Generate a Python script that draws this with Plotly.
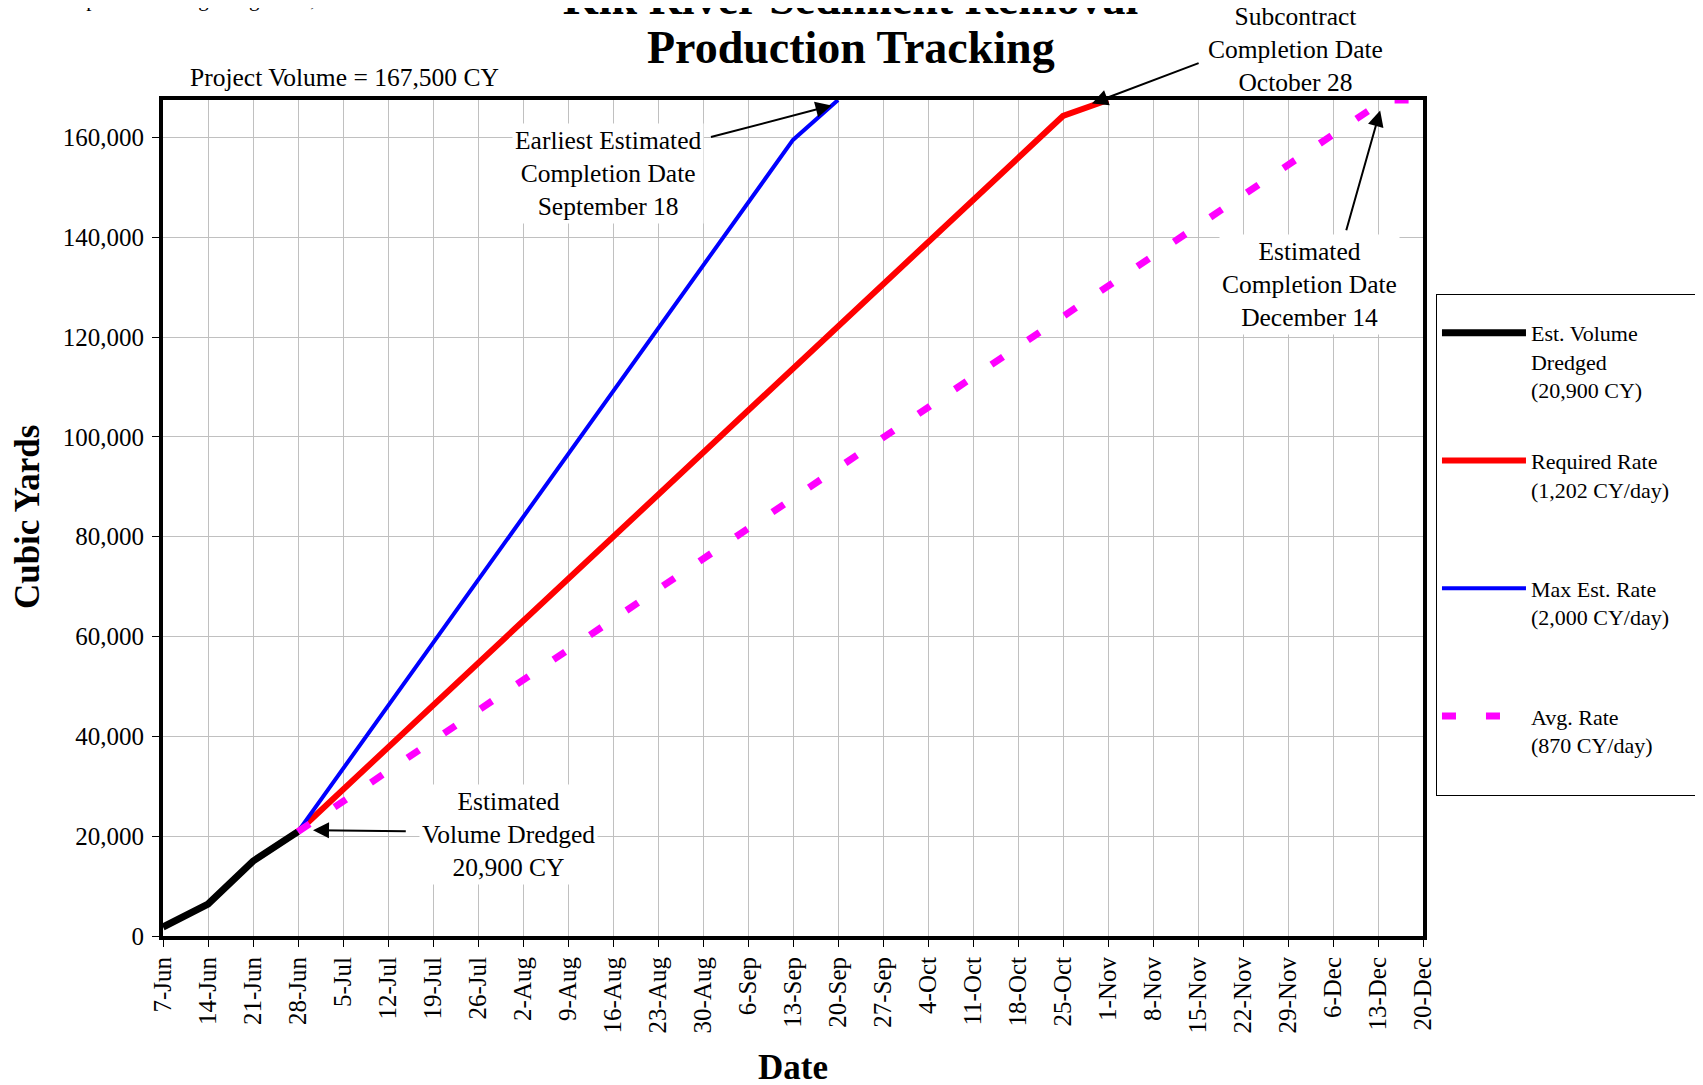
import plotly.graph_objects as go

# dates / values (cubic yards)
dredged_dates = ["2003-06-07", "2003-06-14", "2003-06-21", "2003-06-28"]
dredged_cy = [1800, 6400, 15000, 20900]

required_dates = ["2003-06-28", "2003-10-25", "2003-11-01"]
required_cy = [20900, 164300, 167500]

max_dates = ["2003-06-28", "2003-09-13", "2003-09-20"]
max_cy = [20900, 159500, 167500]

avg_dates = ["2003-06-28", "2003-12-14", "2003-12-20"]
avg_cy = [20900, 167500, 167500]

week_ticks = ["2003-06-07", "2003-06-14", "2003-06-21", "2003-06-28", "2003-07-05",
              "2003-07-12", "2003-07-19", "2003-07-26", "2003-08-02", "2003-08-09",
              "2003-08-16", "2003-08-23", "2003-08-30", "2003-09-06", "2003-09-13",
              "2003-09-20", "2003-09-27", "2003-10-04", "2003-10-11", "2003-10-18",
              "2003-10-25", "2003-11-01", "2003-11-08", "2003-11-15", "2003-11-22",
              "2003-11-29", "2003-12-06", "2003-12-13", "2003-12-20"]

FONT = "Liberation Serif, Times New Roman, serif"

fig = go.Figure()

fig.add_trace(go.Scatter(x=dredged_dates, y=dredged_cy, mode="lines",
                         name="Est. Volume<br>Dredged<br>(20,900 CY)", legendgroup="a",
                         line=dict(color="black", width=7)))
fig.add_trace(go.Scatter(x=required_dates, y=required_cy, mode="lines",
                         name="Required Rate<br>(1,202 CY/day)" + "&nbsp;" * 10 + "<br> ",
                         legendgroup="b", line=dict(color="#ff0000", width=6)))
fig.add_trace(go.Scatter(x=max_dates, y=max_cy, mode="lines",
                         name="Max Est. Rate<br>(2,000 CY/day)<br> ", legendgroup="c",
                         line=dict(color="#0000ff", width=4)))
fig.add_trace(go.Scatter(x=avg_dates, y=avg_cy, mode="lines",
                         name="Avg. Rate<br>(870 CY/day)<br> ", legendgroup="d",
                         line=dict(color="#ff00ff", width=7, dash="14px,30px")))

# text labels (white boxes hide the grid behind them)
labels = [
    ("Project Volume = 167,500 CY", 0.144, 1.0275, None),
    ("Earliest Estimated<br>Completion Date<br>September 18", 0.353, 0.9115, "white"),
    ("Subcontract<br>Completion Date<br>October 28", 0.899, 1.061, None),
    ("Estimated<br>Completion Date<br>December 14", 0.910, 0.779, "white"),
    ("Estimated<br>Volume Dredged<br>20,900 CY", 0.274, 0.121, "white"),
]
for txt, x, y, bg in labels:
    fig.add_annotation(text=txt, x=x, y=y, xref="paper", yref="paper", showarrow=False,
                       xanchor="center", yanchor="middle",
                       font=dict(family=FONT, size=25.5, color="black"),
                       bgcolor=bg, borderpad=2)

# arrows: (head date, head cy, tail date, tail cy)
arrows = [
    ("2003-09-19", 166400, "2003-08-31", 160000),
    ("2003-10-29 12:00", 166800, "2003-11-15 08:00", 175000),
    ("2003-12-13 08:00", 165400, "2003-12-08", 141100),
    ("2003-06-30 08:00", 21200, "2003-07-15", 21000),
]
for hx, hy, tx, ty in arrows:
    fig.add_annotation(x=hx, y=hy, ax=tx, ay=ty, xref="x", yref="y", axref="x", ayref="y",
                       text="", showarrow=True, arrowhead=2, arrowsize=1.6, arrowwidth=2,
                       arrowcolor="black")

# title (first line runs off the top of the page)
fig.add_annotation(text="<b>Kik River Sediment Removal</b>", x=0.546, y=1.121,
                   xref="paper", yref="paper", xanchor="center", yanchor="middle",
                   showarrow=False, font=dict(family=FONT, size=46, color="black"))
fig.add_annotation(text="<b>Production Tracking</b>", x=0.546, y=1.063,
                   xref="paper", yref="paper", xanchor="center", yanchor="middle",
                   showarrow=False, font=dict(family=FONT, size=46, color="black"))
fig.add_annotation(text="Updated Through August 31, 2003", x=0.043, y=1.104,
                   xref="paper", yref="paper", xanchor="center", yanchor="bottom",
                   showarrow=False, font=dict(family=FONT, size=21, color="black"))

# axis titles
fig.add_annotation(text="<b>Cubic Yards</b>", x=-0.108, y=0.501, xref="paper", yref="paper",
                   xanchor="center", yanchor="middle", textangle=-90, showarrow=False,
                   font=dict(family=FONT, size=35, color="black"))
fig.add_annotation(text="<b>Date</b>", x=0.5, y=-0.157, xref="paper", yref="paper",
                   xanchor="center", yanchor="middle", showarrow=False,
                   font=dict(family=FONT, size=35, color="black"))

fig.update_layout(
    width=1703, height=1085,
    margin=dict(l=155, r=288, t=92, b=157, autoexpand=False),
    paper_bgcolor="white", plot_bgcolor="white",
    font=dict(family=FONT, size=20, color="black"),
    showlegend=True,
    legend=dict(x=1.0103, y=0.768, xanchor="left", yanchor="top",
                bordercolor="black", borderwidth=1, bgcolor="white",
                title=dict(text=" ", font=dict(size=13)),
                font=dict(family=FONT, size=22), tracegroupgap=39,
                itemwidth=84, valign="top", traceorder="grouped"),
)
fig.update_xaxes(
    type="date", range=["2003-06-07", "2003-12-20"],
    tickvals=week_ticks, tickformat="%-d-%b", tickangle=-90,
    tickfont=dict(family=FONT, size=25),
    showgrid=True, gridcolor="#c0c0c0", gridwidth=1,
    showline=True, linecolor="black", linewidth=4, mirror=True,
    ticks="outside", ticklen=7, tickcolor="black", tickwidth=1,
)
fig.update_yaxes(
    range=[0, 167500], dtick=20000, tickformat=",d",
    tickfont=dict(family=FONT, size=25), ticklabelstandoff=3,
    showgrid=True, gridcolor="#c0c0c0", gridwidth=1, zeroline=False,
    showline=True, linecolor="black", linewidth=4, mirror=True,
    ticks="outside", ticklen=7, tickcolor="black", tickwidth=1,
)

fig.write_html("out.html")
